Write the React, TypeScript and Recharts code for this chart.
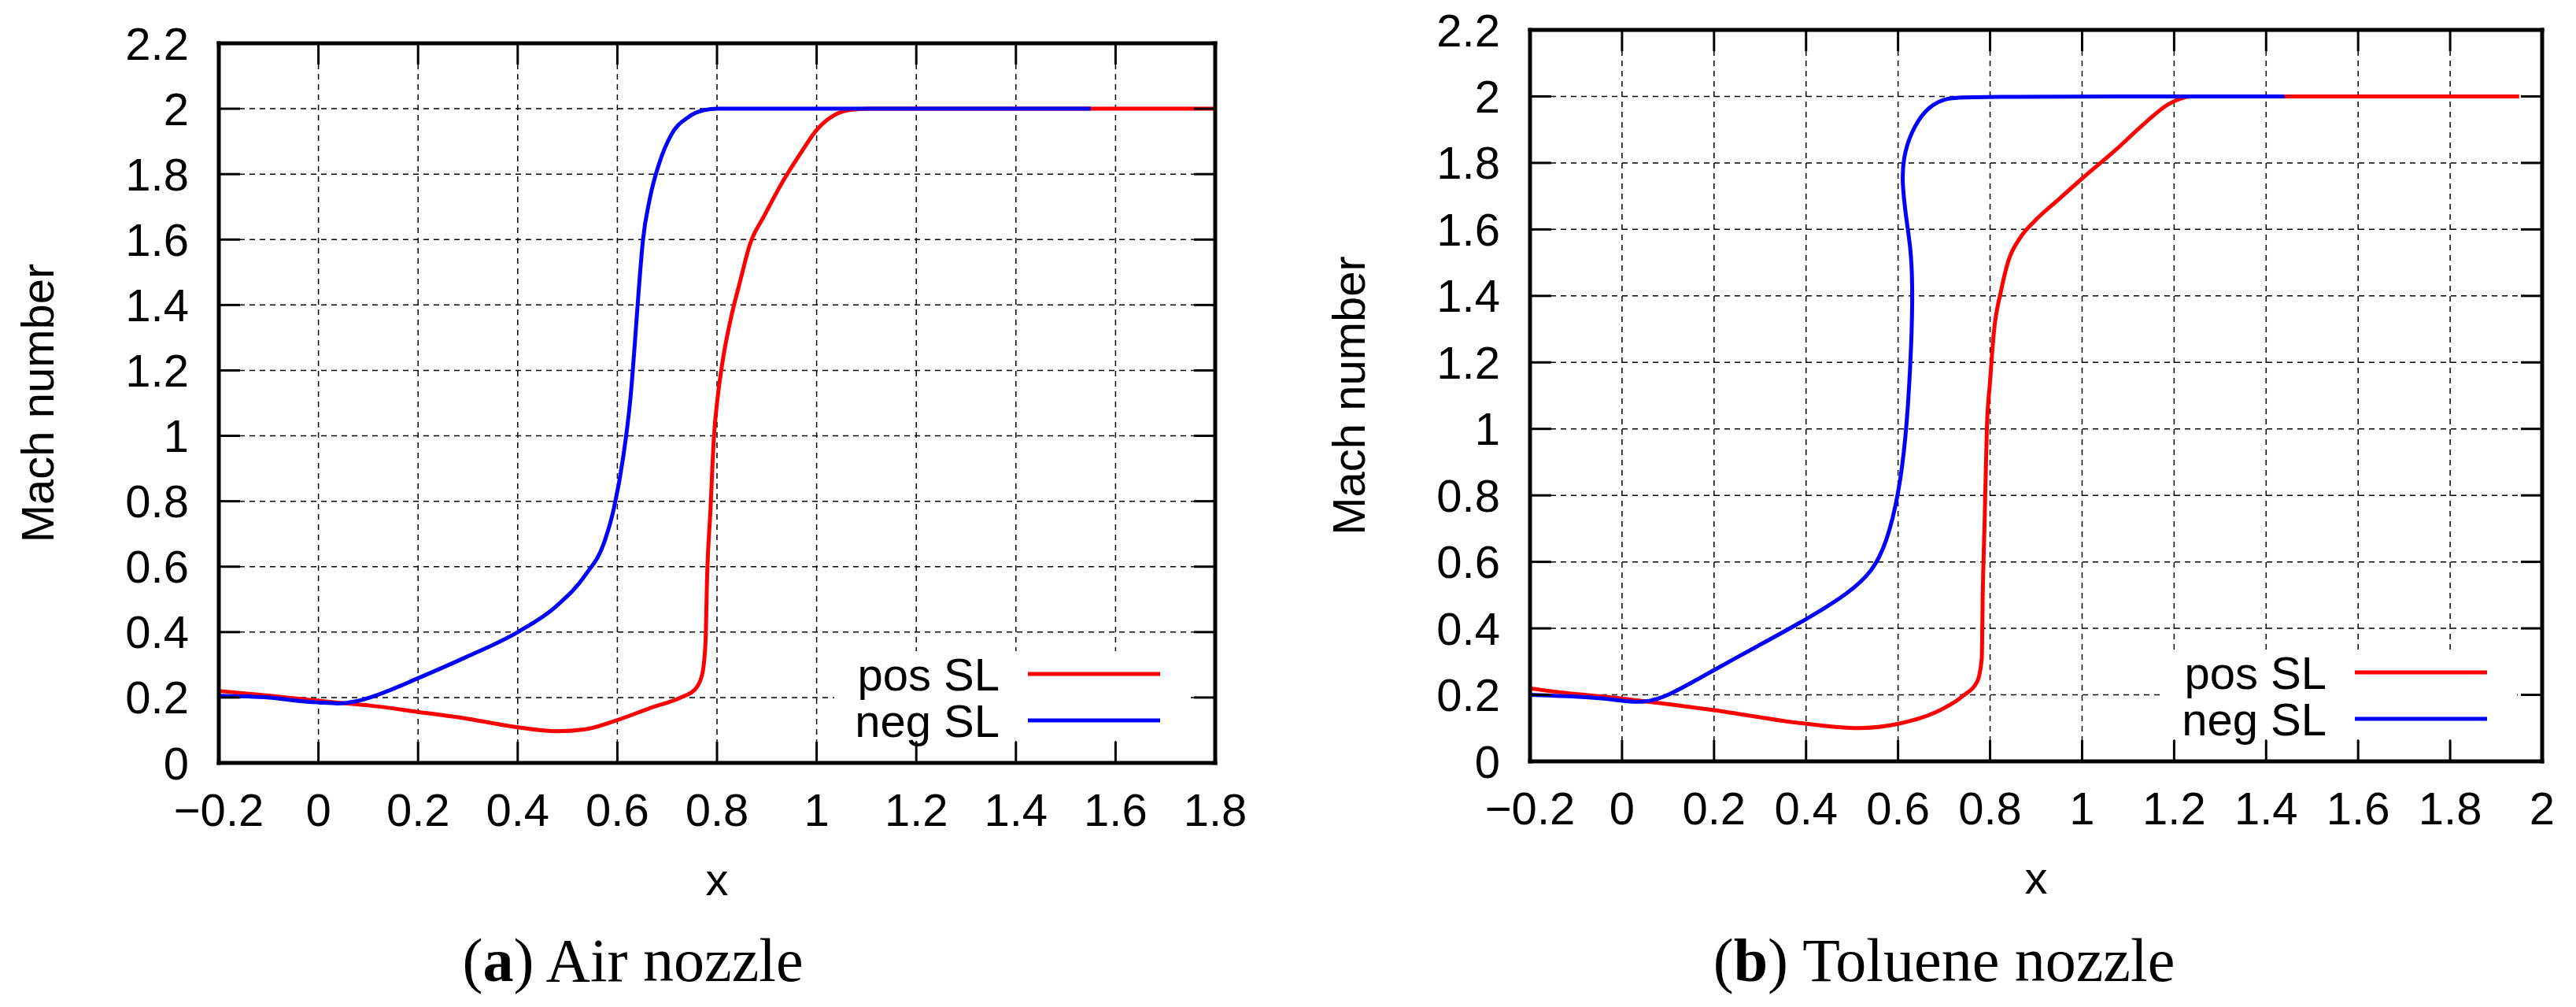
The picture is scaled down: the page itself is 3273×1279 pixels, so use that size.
import React from "react";
import { LineChart, Line, XAxis, YAxis, CartesianGrid, Legend, Label } from "recharts";

// axis ticks
const yTicks = [0, 0.2, 0.4, 0.6, 0.8, 1, 1.2, 1.4, 1.6, 1.8, 2, 2.2];
const airXTicks = [-0.2, 0, 0.2, 0.4, 0.6, 0.8, 1, 1.2, 1.4, 1.6, 1.8];
const tolXTicks = [-0.2, 0, 0.2, 0.4, 0.6, 0.8, 1, 1.2, 1.4, 1.6, 1.8, 2];

// (a) Air nozzle – positive streamline
const airPosX = [-0.2, -0.1, 0, 0.057, 0.1, 0.2, 0.3, 0.4, 0.478, 0.536, 0.6, 0.67, 0.727, 0.756, 0.77, 0.777, 0.78, 0.787, 0.794, 0.801, 0.813, 0.828, 0.847, 0.866, 0.895, 0.928, 0.967, 1.0, 1.033, 1.072, 1.11, 1.8];
const airPosM = [0.22, 0.206, 0.19, 0.182, 0.176, 0.156, 0.135, 0.109, 0.097, 0.103, 0.131, 0.17, 0.2, 0.225, 0.269, 0.37, 0.56, 0.778, 1.0, 1.113, 1.244, 1.36, 1.476, 1.585, 1.673, 1.767, 1.862, 1.935, 1.978, 1.997, 2.0, 2.0];
// (a) Air nozzle – negative streamline
const airNegX = [-0.2, -0.1, -0.038, 0, 0.038, 0.077, 0.124, 0.2, 0.297, 0.4, 0.478, 0.536, 0.574, 0.593, 0.612, 0.627, 0.636, 0.643, 0.651, 0.665, 0.684, 0.708, 0.742, 0.775, 0.801, 1.55];
const airNegM = [0.205, 0.2, 0.189, 0.185, 0.182, 0.189, 0.211, 0.259, 0.324, 0.4, 0.48, 0.575, 0.676, 0.778, 0.938, 1.127, 1.302, 1.447, 1.593, 1.724, 1.833, 1.92, 1.974, 1.996, 2.0, 2.0];

// (b) Toluene nozzle – positive streamline
const tolPosX = [-0.2, -0.171, 0, 0.2, 0.4, 0.513, 0.601, 0.679, 0.741, 0.772, 0.782, 0.784, 0.788, 0.793, 0.8, 0.808, 0.824, 0.839, 0.865, 0.896, 0.948, 1.0, 1.073, 1.135, 1.187, 1.238, 1.32, 1.95];
const tolPosM = [0.22, 0.214, 0.189, 0.154, 0.113, 0.1, 0.113, 0.146, 0.197, 0.24, 0.311, 0.498, 0.713, 1.0, 1.143, 1.287, 1.416, 1.502, 1.574, 1.624, 1.689, 1.753, 1.839, 1.918, 1.976, 2.0, 2.0, 2.0];
// (b) Toluene nozzle – negative streamline (folds back on itself)
const tolNegX = [-0.2, -0.067, 0, 0.047, 0.098, 0.2, 0.295, 0.4, 0.492, 0.544, 0.575, 0.601, 0.617, 0.627, 0.632, 0.629, 0.619, 0.608, 0.612, 0.627, 0.658, 0.699, 0.741, 1.44];
const tolNegM = [0.2, 0.194, 0.182, 0.176, 0.194, 0.275, 0.347, 0.426, 0.505, 0.57, 0.656, 0.8, 0.971, 1.187, 1.387, 1.531, 1.617, 1.746, 1.818, 1.889, 1.961, 1.994, 2.0, 2.0];

const seriesOrder = ["pos SL", "neg SL"];

const toPoints = (xs: number[], ms: number[]) => xs.map((x, i) => ({ x, m: ms[i] }));

const SANS = "'Liberation Sans', Arial, Helvetica, sans-serif";
const SERIF = "'Liberation Serif', 'Times New Roman', serif";
const FS = 58;
const TICK_LEN = 27;
const X_TICK_GAP = 59;
const Y_TICK_GAP = 38;
const FRAME = { stroke: "#000", strokeWidth: 5, strokeLinecap: "square" as const };

const fmt = (v: number) => {
  const s = String(Number(Math.abs(v).toFixed(1)));
  return v < 0 ? "\u2212" + s : s;
};

const BottomTick = (props: any) => {
  const { x, y, payload } = props;
  const axisY = y - X_TICK_GAP;
  return (
    <g>
      <line x1={x} x2={x} y1={axisY} y2={axisY - TICK_LEN} stroke="#000" strokeWidth={3} />
      <text x={x} y={y} textAnchor="middle" dominantBaseline="central" fontFamily={SANS} fontSize={FS} fill="#000">
        {fmt(payload.value)}
      </text>
    </g>
  );
};

const LeftTick = (props: any) => {
  const { x, y, payload } = props;
  const axisX = x + Y_TICK_GAP;
  return (
    <g>
      <line x1={axisX} x2={axisX + TICK_LEN} y1={y} y2={y} stroke="#000" strokeWidth={3} />
      <text x={x} y={y} textAnchor="end" dominantBaseline="central" fontFamily={SANS} fontSize={FS} fill="#000">
        {fmt(payload.value)}
      </text>
    </g>
  );
};

const TopTick = (props: any) => {
  const { x, y } = props;
  return <line x1={x} x2={x} y1={y} y2={y + TICK_LEN} stroke="#000" strokeWidth={3} />;
};

const RightTick = (props: any) => {
  const { x, y } = props;
  return <line x1={x - TICK_LEN} x2={x} y1={y} y2={y} stroke="#000" strokeWidth={3} />;
};

// opaque key box, like gnuplot's "key opaque"
const KeyBox = ({ payload }: any) => {
  const items = [...(payload || [])].sort(
    (a: any, b: any) => seriesOrder.indexOf(a.value) - seriesOrder.indexOf(b.value)
  );
  return (
    <svg width={452} height={114} style={{ display: "block", overflow: "visible" }}>
      <rect x={0} y={0} width={452} height={114} fill="#fff" />
      {items.map((e: any, i: number) => {
        const cy = 29 + i * 59;
        return (
          <g key={e.value}>
            <text x={210} y={cy} textAnchor="end" dominantBaseline="central" fontFamily={SANS} fontSize={FS} fill="#000">
              {e.value}
            </text>
            <line x1={246} x2={414} y1={cy} y2={cy} stroke={e.color} strokeWidth={5} />
          </g>
        );
      })}
    </svg>
  );
};

interface PanelProps {
  width: number;
  height: number;
  margin: { top: number; right: number; left: number; bottom: number };
  yAxisWidth: number;
  xAxisHeight: number;
  xDomain: [number, number];
  xTicks: number[];
  pos: { x: number; m: number }[];
  neg: { x: number; m: number }[];
  negCurve: "monotoneX" | "basis";
  legendPos: { left: number; top: number };
}

function NozzlePanel(p: PanelProps) {
  return (
    <LineChart width={p.width} height={p.height} margin={p.margin} style={{ fontFamily: SANS }}>
      <CartesianGrid stroke="#000" strokeWidth={1.5} strokeDasharray="7 6" />
      <XAxis
        dataKey="x"
        type="number"
        domain={p.xDomain}
        ticks={p.xTicks}
        allowDataOverflow
        height={p.xAxisHeight}
        tickSize={0}
        tickMargin={X_TICK_GAP}
        tickLine={false}
        axisLine={FRAME}
        tick={<BottomTick />}
        interval={0}
      >
        <Label
          content={({ viewBox }: any) => (
            <text
              x={viewBox.x + viewBox.width / 2}
              y={viewBox.y + 168}
              textAnchor="middle"
              fontFamily={SANS}
              fontSize={FS}
              fill="#000"
            >
              x
            </text>
          )}
        />
      </XAxis>
      <XAxis
        xAxisId="top"
        orientation="top"
        dataKey="x"
        type="number"
        domain={p.xDomain}
        ticks={p.xTicks}
        allowDataOverflow
        height={1}
        tickSize={0}
        tickMargin={0}
        tickLine={false}
        axisLine={FRAME}
        tick={<TopTick />}
        interval={0}
      />
      <YAxis
        type="number"
        domain={[0, 2.2]}
        ticks={yTicks}
        allowDataOverflow
        width={p.yAxisWidth}
        tickSize={0}
        tickMargin={Y_TICK_GAP}
        tickLine={false}
        axisLine={FRAME}
        tick={<LeftTick />}
        interval={0}
      >
        <Label
          content={({ viewBox }: any) => {
            const cx = viewBox.x + viewBox.width - 231;
            const cy = viewBox.y + viewBox.height / 2;
            return (
              <text
                x={cx}
                y={cy}
                transform={`rotate(-90 ${cx} ${cy})`}
                textAnchor="middle"
                dominantBaseline="central"
                fontFamily={SANS}
                fontSize={FS}
                fill="#000"
              >
                Mach number
              </text>
            );
          }}
        />
      </YAxis>
      <YAxis
        yAxisId="right"
        orientation="right"
        type="number"
        domain={[0, 2.2]}
        ticks={yTicks}
        allowDataOverflow
        width={1}
        tickSize={0}
        tickMargin={0}
        tickLine={false}
        axisLine={FRAME}
        tick={<RightTick />}
        interval={0}
      />
      <Legend
        layout="horizontal"
        verticalAlign="middle"
        align="center"
        wrapperStyle={{ left: p.legendPos.left, top: p.legendPos.top, width: 452, height: 114 }}
        content={(lp: any) => <KeyBox payload={lp.payload} />}
      />
      <Line
        data={p.pos}
        dataKey="m"
        name="pos SL"
        type="monotoneX"
        stroke="#ff0000"
        strokeWidth={5}
        strokeLinejoin="round"
        dot={false}
        activeDot={false}
        isAnimationActive={false}
      />
      <Line
        data={p.neg}
        dataKey="m"
        name="neg SL"
        type={p.negCurve}
        stroke="#0000ff"
        strokeWidth={5}
        strokeLinejoin="round"
        dot={false}
        activeDot={false}
        isAnimationActive={false}
      />
    </LineChart>
  );
}

export default function App() {
  const airPos = toPoints(airPosX, airPosM);
  const airNeg = toPoints(airNegX, airNegM);
  const tolPos = toPoints(tolPosX, tolPosM);
  const tolNeg = toPoints(tolNegX, tolNegM);

  return (
    <div
      style={{
        position: "absolute",
        left: 0,
        top: 0,
        width: 3273,
        height: 1279,
        background: "#fff",
        overflow: "hidden",
      }}
    >
      <div style={{ position: "absolute", left: 0, top: 0 }}>
        <NozzlePanel
          width={1600}
          height={1279}
          margin={{ top: 54, right: 55, left: 0, bottom: 0 }}
          yAxisWidth={278}
          xAxisHeight={310}
          xDomain={[-0.2, 1.8]}
          xTicks={airXTicks}
          pos={airPos}
          neg={airNeg}
          negCurve="monotoneX"
          legendPos={{ left: 1060, top: 827 }}
        />
      </div>
      <div style={{ position: "absolute", left: 1640, top: 0 }}>
        <NozzlePanel
          width={1633}
          height={1279}
          margin={{ top: 37, right: 42, left: 0, bottom: 0 }}
          yAxisWidth={304}
          xAxisHeight={312}
          xDomain={[-0.2, 2]}
          xTicks={tolXTicks}
          pos={tolPos}
          neg={tolNeg}
          negCurve="basis"
          legendPos={{ left: 1106, top: 825 }}
        />
      </div>
      <svg
        width={3273}
        height={1279}
        style={{ position: "absolute", left: 0, top: 0, pointerEvents: "none" }}
      >
        <text x={804} y={1246} textAnchor="middle" fontFamily={SERIF} fontSize={78} fill="#000">
          (<tspan fontWeight="bold">a</tspan>) Air nozzle
        </text>
        <text x={2470} y={1246} textAnchor="middle" fontFamily={SERIF} fontSize={78} fill="#000">
          (<tspan fontWeight="bold">b</tspan>) Toluene nozzle
        </text>
      </svg>
    </div>
  );
}
